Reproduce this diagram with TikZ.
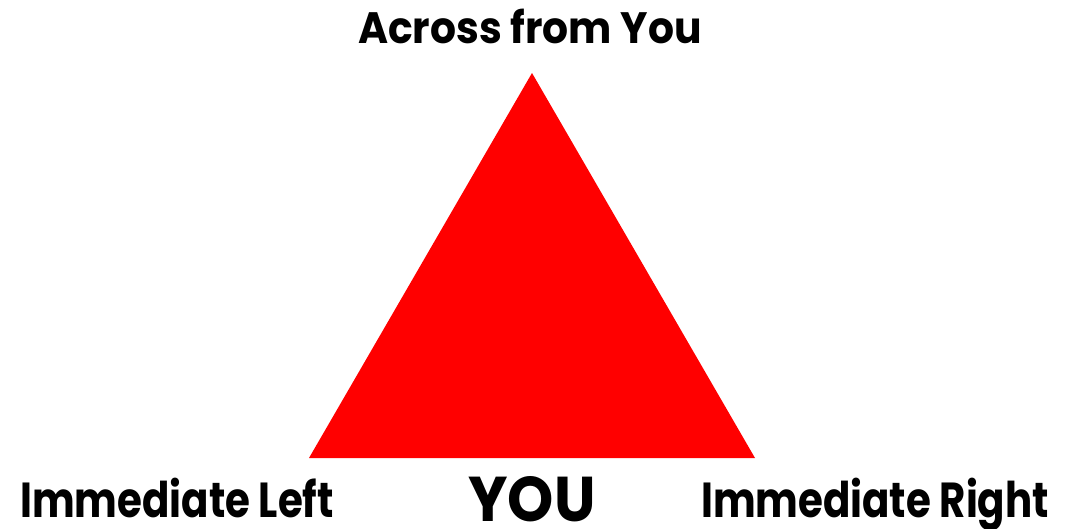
\documentclass[tikz,border=0pt]{standalone}
\usepackage{fontspec}
\setmainfont{Poppins}
\newfontfamily\topfont{Poppins}[FakeStretch=0.93]
\newfontfamily\narrowfont{Poppins}[FakeStretch=0.82]
\usetikzlibrary{positioning, calc}
\definecolor{TriRed}{HTML}{FF0000}
\tikzset{
  toplbl/.style={font=\topfont\fontsize{25}{30}\selectfont\bfseries, inner sep=0pt, anchor=base},
  lbl/.style={font=\narrowfont\fontsize{28}{34}\selectfont\bfseries, inner sep=0pt, anchor=base},
  youlbl/.style={font=\topfont\fontsize{36}{42}\selectfont\bfseries, inner sep=0pt, anchor=base},
  tri/.style={fill=TriRed, draw=none},
}
\begin{document}
\begin{tikzpicture}[x=0.02cm, y=-0.02cm]
    \useasboundingbox (0,0) rectangle (1069,528);
    \coordinate (top) at (532,73);
    \coordinate (bl) at (309,458);
    \coordinate (br) at (755,458);
    \fill[tri] (top) -- (bl) -- (br) -- cycle;
    \node[toplbl] (across) at (530,43) {Across from You};
    \node[lbl] (left) at (177,517) {Immediate Left};
    \node[youlbl] (you) at (532,521) {YOU};
    \node[lbl] (right) at (875,517) {Immediate Right};
  \end{tikzpicture}
\end{document}
